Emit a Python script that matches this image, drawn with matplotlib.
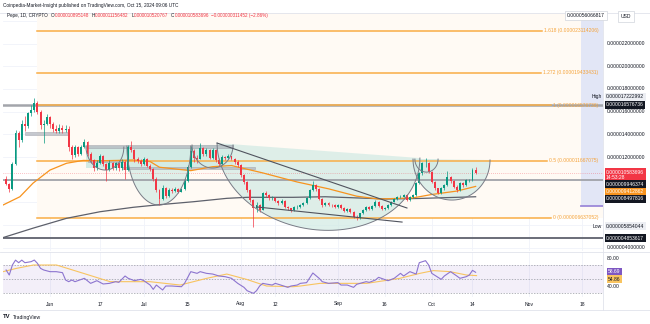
import matplotlib
matplotlib.use("Agg")
import matplotlib.pyplot as plt
import matplotlib.transforms as mtransforms
from matplotlib.lines import Line2D
from matplotlib.patches import Rectangle
import numpy as np
import pandas as pd

plt.rcParams['font.family'] = ['Liberation Sans', 'DejaVu Sans']

# ---- daily PEPE candles 2024-05-18 .. 2024-10-15, prices in 1e-6 USD
start_date = '2024-05-18'
first_open = 10.10
closes = [9.65, 9.2, 11.4, 14.1, 13.5, 14.95, 14.7, 15.85, 16.15, 16.73,
          16.0, 14.85, 14.95, 15.5, 14.9, 14.5, 14.3, 14.6, 14.35, 14.5,
          12.9, 12.2, 12.9, 12.3, 12.9, 13.3, 12.3, 11.7, 11.0, 11.5,
          12.1, 11.4, 10.9, 11.5, 11.05, 11.45, 11.0, 11.6, 10.9, 12.9,
          12.6, 11.8, 11.65, 11.4, 11.85, 11.25, 10.95, 10.1, 9.1, 8.3,
          9.3, 8.6, 9.1, 9.0, 9.2, 8.95, 9.15, 9.9, 11.1, 12.5,
          11.9, 11.85, 12.8, 12.3, 12.6, 11.9, 12.6, 11.7, 11.4, 12.0,
          11.9, 12.05, 11.85, 11.6, 11.3, 10.4, 9.8, 9.1, 8.2, 7.5,
          7.8, 7.35, 8.8, 8.65, 8.35, 8.4, 8.1, 7.95, 8.15, 7.6,
          7.48, 7.33, 7.57, 7.62, 7.77, 7.92, 8.36, 9.09, 9.53, 9.2,
          8.3, 7.77, 7.92, 7.8, 7.75, 7.62, 7.77, 7.55, 7.25, 7.45,
          7.18, 6.74, 6.6, 7.04, 7.33, 7.57, 7.39, 7.68, 8.06, 7.68,
          7.39, 7.48, 7.77, 8.06, 8.27, 8.45, 8.5, 8.65, 8.21, 8.45,
          8.65, 9.68, 10.56, 11.44, 11.5, 10.71, 9.83, 9.24, 8.8, 9.24,
          9.53, 10.27, 9.85, 9.4, 9.1, 9.7, 9.55, 9.97, 10.0, 10.895,
          10.584]
highs = [10.3, 9.75, 11.6, 14.4, 14.3, 15.3, 15.6, 16.0, 16.6, 17.22,
         16.9, 16.1, 15.3, 15.8, 15.6, 15.1, 14.8, 14.9, 14.8, 14.8,
         14.7, 13.1, 13.1, 13.0, 13.1, 13.6, 13.4, 12.4, 11.8, 11.7,
         12.3, 12.2, 11.5, 11.7, 11.6, 11.6, 11.5, 11.8, 11.7, 13.1,
         13.4, 12.7, 12.0, 11.8, 12.0, 11.9, 11.4, 11.0, 10.2, 9.2,
         9.5, 9.4, 9.3, 9.3, 9.4, 9.3, 9.3, 10.1, 11.3, 13.0,
         12.7, 12.2, 13.2, 12.9, 12.8, 12.7, 12.8, 12.7, 11.9, 12.2,
         12.1, 12.3, 12.1, 11.9, 11.7, 11.4, 10.5, 9.9, 9.2, 8.3,
         8.0, 7.9, 8.95, 9.0, 8.7, 8.6, 8.5, 8.2, 8.3, 8.2,
         7.7, 7.55, 7.65, 7.75, 7.85, 8.0, 8.45, 9.2, 9.85, 9.6,
         9.25, 8.4, 8.05, 8.0, 7.9, 7.85, 7.9, 7.85, 7.6, 7.55,
         7.5, 7.25, 6.85, 7.1, 7.4, 7.65, 7.65, 7.75, 8.2, 8.1,
         7.75, 7.6, 7.85, 8.15, 8.35, 8.55, 8.65, 8.75, 8.7, 8.55,
         8.75, 9.8, 10.7, 11.6, 11.95, 11.6, 10.8, 9.9, 9.3, 9.35,
         9.65, 10.8, 10.35, 9.95, 9.5, 9.8, 9.8, 10.05, 10.1, 11.05,
         11.156]
lows = [9.5, 8.95, 9.1, 11.3, 12.9, 13.3, 14.3, 14.6, 15.6, 16.0,
        15.8, 14.5, 13.2, 14.8, 14.6, 14.2, 14.1, 14.1, 14.1, 14.2,
        12.5, 11.8, 12.0, 12.1, 12.2, 12.8, 12.1, 11.5, 10.8, 10.9,
        11.4, 11.2, 9.9, 10.8, 10.9, 10.9, 10.8, 10.9, 10.1, 10.8,
        12.4, 11.6, 11.5, 11.2, 11.3, 11.1, 10.8, 9.9, 8.9, 7.8,
        8.2, 8.4, 8.5, 8.8, 8.9, 8.8, 8.9, 9.1, 9.8, 11.0,
        11.6, 11.5, 11.8, 12.1, 12.1, 11.8, 11.8, 11.6, 11.2, 11.3,
        11.7, 11.8, 11.7, 11.4, 11.1, 10.2, 9.6, 8.9, 8.0, 5.854,
        7.2, 7.2, 7.3, 8.5, 8.2, 8.2, 8.0, 7.8, 7.9, 7.5,
        7.35, 7.2, 7.25, 7.45, 7.55, 7.7, 7.85, 8.3, 9.0, 9.0,
        8.2, 7.6, 7.65, 7.7, 7.6, 7.5, 7.55, 7.45, 7.15, 7.15,
        7.05, 6.65, 6.45, 6.55, 6.95, 7.25, 7.3, 7.35, 7.6, 7.6,
        7.3, 7.3, 7.4, 7.7, 8.0, 8.2, 8.35, 8.45, 8.1, 8.15,
        8.35, 8.6, 9.6, 10.4, 11.1, 10.6, 9.7, 9.1, 8.7, 8.75,
        9.1, 9.45, 9.7, 9.3, 8.95, 9.0, 9.4, 9.45, 9.8, 9.9,
        10.521]

# moving averages (days from 2024-06-01)
ma_orange_days = [-15, -9.6, -5.4, 0, 5.3, 10.6, 16, 21.3, 26.6, 32, 35, 45,
                  52, 58, 68, 79, 89, 98, 105, 116, 122, 130, 136]
ma_orange_vals = [7.77, 8.5, 9.7, 10.85, 11.45, 11.7, 11.67, 11.7, 11.74, 11.6,
                  11.1, 10.8, 11.15, 11.25, 10.6, 9.8, 9.2, 8.55, 8.3, 8.4, 8.7,
                  9.0, 9.41]
ma_gray_days = [-15, -5.3, 5.3, 16, 26.6, 35, 45.8, 56.5, 63, 77.7, 88, 107.6,
                118, 136]
ma_gray_vals = [4.9, 5.74, 6.6, 7.18, 7.57, 7.8, 8.06, 8.36, 8.45, 8.45, 8.5,
                8.3, 8.35, 8.5]

rsi_days = [-14, -13, -12, -11, -10, -9, -8, -6, -5, -4, -3, -2, 0, 2, 4, 5, 6,
            7, 8, 11, 13, 15, 17, 19, 21, 22, 24, 25, 27, 29, 30, 32, 33, 34,
            36, 37, 39, 42, 43, 45, 47, 48, 50, 52, 54, 56, 58, 60, 62, 63, 65,
            66, 67, 68, 69, 71, 72, 74, 76, 77, 79, 80, 82, 84, 86, 87, 89, 92,
            93, 95, 97, 98, 101, 102, 104, 105, 108, 110, 112, 113, 115, 117,
            118, 120, 121, 122, 125, 126, 128, 130, 131, 133, 134, 135, 136]
rsi_vals = [62.9, 55.7, 70, 77, 73.3, 77, 73.3, 74.8, 77.1, 72.4, 65.2, 62.9,
            60.5, 60.5, 59.1, 48.6, 46.2, 48.6, 46.2, 51, 43.8, 47.6, 42.9,
            43.8, 46.2, 45.2, 54.3, 51, 47.6, 49.5, 47.6, 41.4, 35.2, 41.4,
            34.3, 40, 40, 39, 43.8, 60.5, 58.1, 60.5, 58.1, 57.1, 54.3, 53.3,
            51, 43.8, 38.1, 33.3, 29.5, 33.3, 40, 43.8, 42.9, 41.4, 43.8, 41,
            38.1, 40, 41.4, 43.8, 44.8, 58.6, 51, 46.2, 43.8, 44.8, 41.4, 41.4,
            38.1, 42.4, 46.2, 45.2, 48.6, 52.4, 47.6, 51, 58.1, 54.3, 60.5,
            57.1, 73.3, 76.2, 70, 58.1, 49.5, 54.3, 60.5, 54.3, 51, 53.3, 55.7,
            62.4, 59.6]
rsi_ma_days = [-15, -10.7, -5.3, 2.1, 10.7, 19.2, 31.9, 41.6, 50.1, 56.5, 62.8,
               69.2, 77.7, 80, 86.3, 90.5, 101.2, 111.8, 118.2, 122.5, 127.8,
               133.1, 136.3]
rsi_ma_vals = [60.5, 65.2, 70, 70, 58.1, 46.2, 46.2, 41.4, 51, 57.1, 49.5, 40,
               39, 40, 43.8, 43.8, 43.8, 51, 58.1, 62, 60.5, 55.7, 54.86]

fib_names = ['1.618', '1.272', '1', '0.5', '0']
fib_vals = [23.114206, 19.433431, 16.576736, 11.667075, 6.637052]

tick_dates = ['2024-06-01', '2024-06-17', '2024-07-01', '2024-07-15',
              '2024-08-01', '2024-08-12', '2024-09-01', '2024-09-16',
              '2024-10-01', '2024-10-14', '2024-11-01', '2024-11-18']
tick_labels = ['Jun', '17', 'Jul', '15', 'Aug', '12', 'Sep', '16', 'Oct',
               '14', 'Nov', '18']
price_ticks = [22, 20, 18, 16, 14, 12, 4]

origin = pd.Timestamp('2024-06-01')
dates = pd.date_range(start_date, periods=len(closes), freq='D')
xs = np.array((dates - origin).days, dtype=float)
opens = [first_open] + closes[:-1]

W, H = 650, 324
fig = plt.figure(figsize=(6.5, 3.24), dpi=100)
fig.patch.set_facecolor('white')


def fx(px):
    return px / W


def fy(py):
    return 1 - py / H


ax = fig.add_axes([fx(3), fy(251), 600 / W, (251 - 13) / H])
rsi = fig.add_axes([fx(3), fy(297), 600 / W, (297 - 252) / H])
XL = (-15.0, 176.7)
for a in (ax, rsi):
    a.set_xlim(*XL)
    a.set_xticks([])
    a.set_yticks([])
    for s in a.spines.values():
        s.set_visible(False)
    a.patch.set_alpha(0)
ax.set_ylim(3.72, 24.69)
rsi.set_ylim(24.3, 88.6)

tick_x = [(pd.Timestamp(d) - origin).days for d in tick_dates]
grid = '#f0f3fa'
for t in tick_x:
    ax.axvline(t, color=grid, lw=0.6, zorder=0)
    rsi.axvline(t, color=grid, lw=0.6, zorder=0)
for p in range(4, 25, 2):
    ax.axhline(p, color=grid, lw=0.6, zorder=0)

# fib background + selected date band
ax.add_patch(Rectangle((-4.2, fib_vals[-1]), XL[1] + 4.2, 24.69 - fib_vals[-1],
                       fc='#fffaf4', ec='none', zorder=0.2))
ax.add_patch(Rectangle((169.6, 7.68), XL[1] - 169.6, 24.07 - 7.68,
                       fc='#e2e6f6', ec='none', zorder=0.4))
ax.plot([169.6, XL[1]], [7.68, 7.68], color='#9c88d9', lw=1.3, zorder=0.5)

# fib levels with labels
renderer = fig.canvas.get_renderer()
for name, v in zip(fib_names, fib_vals):
    t = ax.text(175.2, v, f"{name} ({v * 1e-6:.12f})", ha='right', va='center',
                fontsize=3.6, color='#f5a33a', zorder=6)
    bb = t.get_window_extent(renderer)
    xend = ax.transData.inverted().transform((bb.x0 - 2, 0))[0]
    ax.plot([-4.2, xend], [v, v], color='#f9ad45', lw=1.1, zorder=1.2)

# cup-and-handle drawings
teal = '#d3ebe5'
ax.add_patch(Rectangle((11.5, 11.0), 47.0, 1.97, fc=teal, ec='none', zorder=1))
cups = [((11.5, 12.97), (23.6, 12.88), 2.07),
        ((24.6, 12.97), (45.0, 12.97), 5.2),
        ((45.4, 13.06), (58.5, 13.06), 2.03),
        ((53.4, 13.23), (118.2, 11.91), 7.0),
        ((116.6, 11.82), (124.0, 11.82), 1.15),
        ((116.0, 11.82), (140.6, 11.74), 3.57)]
for (xl, yl), (xr, yr), depth in cups:
    tt = np.linspace(0, np.pi, 80)
    cx, hw = (xl + xr) / 2, (xr - xl) / 2
    cxs = cx - hw * np.cos(tt)
    cys = yl + (yr - yl) * (cxs - xl) / (xr - xl) - depth * np.sin(tt)
    ax.fill(cxs, cys, fc=teal, ec='none', alpha=0.75, zorder=1)
    ax.plot(cxs, cys, color='#787b86', lw=0.7, zorder=5)

bands = [(-8.0, 5.75, 13.94, 14.23), (11.5, 58.5, 12.79, 13.06),
         (12.1, 23.3, 11.56, 11.74), (23.0, 65.5, 10.92, 11.15)]
for x0, x1, y0, y1 in bands:
    ax.add_patch(Rectangle((x0, y0), x1 - x0, y1 - y0, fc='#b4b7bf',
                           ec='#9598a1', lw=0.4, alpha=0.75, zorder=2))

# horizontal lines
ax.axhline(16.576736, color='#a3a5ab', lw=1.8, zorder=1.1)
ax.axhline(9.946374, color='#9a9ca3', lw=1.2, zorder=2.5)
ax.axhline(4.853617, color='#6a6d78', lw=1.4, zorder=2.5)
ax.axhline(closes[-1], color='#f23645', lw=0.5, ls=(0, (1, 2)), alpha=0.6,
           zorder=2.5)

# trend lines
ax.plot([53.4, 114.06], [13.23, 7.51], color='#50535e', lw=0.8, zorder=5)
ax.plot([66.1, 112.5], [7.6, 6.27], color='#50535e', lw=0.8, zorder=5)

# moving averages
ax.plot(ma_gray_days, ma_gray_vals, color='#5d606b', lw=0.9, zorder=3)
ax.plot(ma_orange_days, ma_orange_vals, color='#f7931e', lw=0.9, zorder=3)

# candles
up, dn = '#089981', '#f23645'
for x, o, h, l, c in zip(xs, opens, highs, lows, closes):
    col = up if c >= o else dn
    ax.vlines(x, l, h, color=col, lw=0.5, zorder=4)
    ax.bar(x, max(abs(c - o), 0.04), bottom=min(o, c), width=0.62, color=col,
           zorder=4, linewidth=0)

# RSI pane
rsi.axhspan(30, 70, color='#7e57c2', alpha=0.09, lw=0, zorder=0.5)
for lvl in (70, 50, 30):
    rsi.axhline(lvl, color='#9598a1', lw=0.5, ls=(0, (2, 2)), zorder=1)
rsi.plot(rsi_ma_days, rsi_ma_vals, color='#f8c460', lw=0.8, zorder=2)
rsi.plot(rsi_days, rsi_vals, color='#8c74cf', lw=0.8, zorder=3)

# frame lines
for yy in (13, 251.5, 310):
    fig.add_artist(Line2D([0, 1], [fy(yy), fy(yy)], color='#e0e3eb', lw=0.6))
fig.add_artist(Line2D([fx(603), fx(603)], [fy(310), fy(13)], color='#e0e3eb',
                      lw=0.6))

# texts
ink = '#131722'
fs = 3.6
fig.text(fx(3), fy(6), 'Coinpedia-Market-Insight published on TradingView.com, '
         'Oct 15, 2024 09:06 UTC', fontsize=3.4, color=ink, va='center')

# legend row: pieces laid one after another
pieces = [('Pepe, 1D, CRYPTO', ink, 3), ('O', ink, 0), ('0.000010895148', dn, 2),
          ('H', ink, 0), ('0.000011156482', dn, 2), ('L', ink, 0),
          ('0.000010520767', dn, 2), ('C', ink, 0), ('0.000010583696', dn, 2),
          ('\u22120.000000311452 (\u22122.86%)', dn, 0)]
cur = 7.0
for s, col, gap in pieces:
    t = fig.text(fx(cur), fy(15.5), s, fontsize=3.3, color=col, va='center')
    cur += t.get_window_extent(renderer).width + gap + 0.3

xtr = mtransforms.blended_transform_factory(ax.transData, fig.transFigure)
for t, lab in zip(tick_x, tick_labels):
    fig.text(t, fy(304), lab, transform=xtr, ha='center', va='center',
             fontsize=fs, color=ink)

ptr = mtransforms.blended_transform_factory(fig.transFigure, ax.transData)
for p in price_ticks:
    fig.text(fx(607), p, f"{p * 1e-6:.12f}", transform=ptr, va='center',
             fontsize=fs, color=ink)


def tag(p, s, fc, tc='white', x=606, trans=ptr):
    fig.text(fx(x), p, s, transform=trans, va='center', fontsize=fs, color=tc,
             bbox=dict(boxstyle='square,pad=0.3', fc=fc, ec='none'))


tag(17.29, '0.000017222992', '#eceef3', ink)
fig.text(fx(602), 17.29, 'High', transform=ptr, ha='right', va='center',
         fontsize=fs, color=ink)
tag(16.62, '0.000016576736', '#131722')
tag(10.42, '0.000010583696\n14:53:28', '#f23645')
tag(9.59, '0.000009946374', '#131722')
tag(8.93, '0.000009412862', '#f7931e')
tag(8.33, '0.000008497816', '#131722')
tag(5.92, '0.000005854044', '#eceef3', ink)
fig.text(fx(602), 5.92, 'Low', transform=ptr, ha='right', va='center',
         fontsize=fs, color=ink)
tag(4.86, '0.000004853617', '#131722')

rtr = mtransforms.blended_transform_factory(fig.transFigure, rsi.transData)
for v in (80, 40):
    fig.text(fx(607), v, f"{v:.2f}", transform=rtr, va='center', fontsize=fs,
             color=ink)
tag(60.4, '58.69', '#7e57c2', 'white', 608, rtr)
tag(49.8, '54.86', '#f8c460', ink, 608, rtr)

fig.text(fx(586), fy(15.5), '0.000056066817', ha='center', va='center',
         fontsize=fs, color=ink,
         bbox=dict(boxstyle='square,pad=0.4', fc='white', ec='#d1d4dc', lw=0.5))
fig.text(fx(626), fy(16), 'USD', ha='center', va='center', fontsize=fs,
         color=ink, bbox=dict(boxstyle='square,pad=0.6', fc='white',
                              ec='#d1d4dc', lw=0.5))
fig.text(fx(3), fy(317), 'TV', fontsize=4.2, weight='bold', color=ink,
         va='center')
fig.text(fx(13), fy(317), 'TradingView', fontsize=3.6, color=ink, va='center')

fig.savefig('out.png', dpi=100)
